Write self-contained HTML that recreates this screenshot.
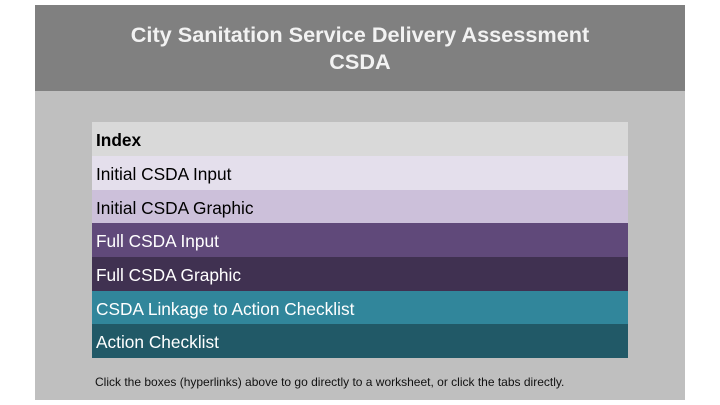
<!DOCTYPE html>
<html><head><style>
body{margin:0;width:720px;height:405px;background:#fff;font-family:"Liberation Sans",Arial,sans-serif;position:relative;overflow:hidden}
.panel{position:absolute;left:35px;top:5px;width:650px;height:395px;background:#bfbfbf}
.hdr{position:absolute;left:0;top:0;width:650px;height:86px;background:#808080;color:#f2f2f2;font-weight:bold;font-size:21.7px;text-align:center;line-height:27px;padding-top:16px;box-sizing:border-box}
.row{position:absolute;left:57px;width:536px;height:34px;font-size:17.3px;line-height:36px;padding-left:4px;box-sizing:border-box;white-space:nowrap}
.foot{position:absolute;left:60px;top:370px;font-size:12px;color:#111}
</style></head><body>
<div class="panel">
<div class="hdr">City Sanitation Service Delivery Assessment<br>CSDA</div>
<div class="row" style="top:117px;background:#d9d9d9;font-weight:bold;color:#000">Index</div>
<div class="row" style="top:151px;background:#e4dfec;color:#000">Initial CSDA Input</div>
<div class="row" style="top:185px;background:#ccc0da;color:#000">Initial CSDA Graphic</div>
<div class="row" style="top:218px;background:#60497a;color:#fff">Full CSDA Input</div>
<div class="row" style="top:252px;background:#403151;color:#fff">Full CSDA Graphic</div>
<div class="row" style="top:286px;background:#31869b;color:#fff">CSDA Linkage to Action Checklist</div>
<div class="row" style="top:319px;background:#215967;color:#fff">Action Checklist</div>
<div class="foot">Click the boxes (hyperlinks) above to go directly to a worksheet, or click the tabs directly.</div>
</div>
</body></html>
